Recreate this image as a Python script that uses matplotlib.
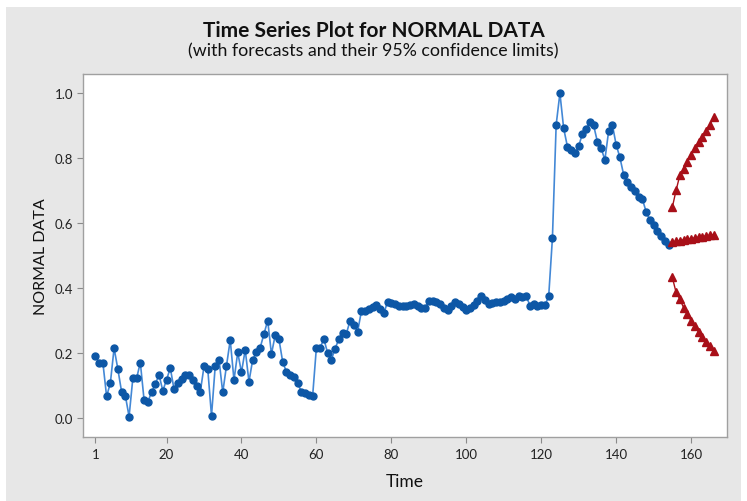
import matplotlib
matplotlib.use("Agg")
import matplotlib.pyplot as plt
from matplotlib.patches import Rectangle

# observed series, t = 1..154
normal_data = [
    0.190, 0.171, 0.171, 0.067, 0.108, 0.215, 0.151, 0.081, 0.069, 0.005,
    0.122, 0.122, 0.171, 0.056, 0.051, 0.079, 0.105, 0.133, 0.084, 0.118,
    0.154, 0.089, 0.108, 0.120, 0.133, 0.133, 0.118, 0.100, 0.080, 0.159,
    0.151, 0.007, 0.161, 0.180, 0.079, 0.161, 0.240, 0.117, 0.202, 0.141,
    0.210, 0.112, 0.180, 0.202, 0.217, 0.258, 0.300, 0.197, 0.255, 0.243,
    0.173, 0.142, 0.132, 0.125, 0.107, 0.081, 0.076, 0.072, 0.069, 0.217,
    0.217, 0.243, 0.200, 0.180, 0.214, 0.243, 0.262, 0.260, 0.300, 0.286,
    0.266, 0.328, 0.330, 0.335, 0.342, 0.348, 0.335, 0.322, 0.358, 0.354,
    0.350, 0.346, 0.344, 0.346, 0.348, 0.352, 0.344, 0.338, 0.338, 0.361,
    0.360, 0.356, 0.351, 0.338, 0.332, 0.344, 0.358, 0.351, 0.341, 0.332,
    0.339, 0.348, 0.361, 0.376, 0.364, 0.351, 0.354, 0.356, 0.358, 0.361,
    0.366, 0.371, 0.367, 0.376, 0.371, 0.376, 0.346, 0.351, 0.345, 0.349,
    0.347, 0.374, 0.553, 0.902, 0.999, 0.891, 0.835, 0.825, 0.815, 0.836,
    0.874, 0.889, 0.910, 0.900, 0.850, 0.830, 0.794, 0.882, 0.902, 0.841,
    0.802, 0.749, 0.725, 0.712, 0.697, 0.679, 0.674, 0.635, 0.609, 0.595,
    0.576, 0.561, 0.546, 0.533,
]
time = list(range(1, len(normal_data) + 1))

# forecasts, t = 155..166
fc_time = list(range(155, 167))
forecast = [0.541, 0.544, 0.546, 0.548, 0.550, 0.552,
            0.554, 0.556, 0.558, 0.560, 0.562, 0.564]
upper_95 = [0.648, 0.700, 0.746, 0.766, 0.787, 0.810,
            0.830, 0.848, 0.864, 0.884, 0.900, 0.926]
lower_95 = [0.433, 0.387, 0.366, 0.340, 0.320, 0.300,
            0.284, 0.264, 0.249, 0.233, 0.221, 0.207]

x_ticks = [1, 20, 40, 60, 80, 100, 120, 140, 160]
y_ticks = [0.0, 0.2, 0.4, 0.6, 0.8, 1.0]

BLUE_LINE = "#4388D6"
BLUE_DOT = "#0D57A6"
RED = "#A80F18"
FONT = ["Lato", "DejaVu Sans"]

W, H = 747, 502
fig = plt.figure(figsize=(W / 100, H / 100), dpi=100, facecolor="white")
# grey panel behind everything (Minitab style)
fig.patches.append(Rectangle((6 / W, 0), (741 - 6) / W, (502 - 8) / H,
                             transform=fig.transFigure, facecolor="#E7E7E7",
                             edgecolor="none", zorder=-10))

ax = fig.add_axes([83 / W, (H - 438) / H, (727 - 83) / W, (438 - 75) / H])
ax.set_facecolor("white")

ax.plot(time, normal_data, color=BLUE_LINE, lw=1.2, marker="o", ms=5.0,
        mfc=BLUE_DOT, mec=BLUE_DOT, zorder=3)
for series in (forecast, upper_95, lower_95):
    ax.plot(fc_time, series, color=RED, lw=1.0, marker="^", ms=5.5,
            mfc=RED, mec=RED, zorder=3)

ax.set_xlim(-2.3, 169.6)
ax.set_ylim(-0.058, 1.058)
ax.set_xticks(x_ticks)
ax.set_yticks(y_ticks)
ax.set_yticklabels([f"{v:.1f}" for v in y_ticks])

for s in ax.spines.values():
    s.set_color("#A0A0A0")
    s.set_linewidth(1.0)
ax.tick_params(direction="out", length=4, width=0.8, color="#8A8A8A",
               labelsize=9.5, labelcolor="#222222")
ax.tick_params(axis="x", pad=4)
ax.tick_params(axis="y", pad=3)
for lab in ax.get_xticklabels() + ax.get_yticklabels():
    lab.set_family(FONT)

ax.set_xlabel("Time", fontsize=12.5, family=FONT, color="#111111", labelpad=9)
ax.set_ylabel("NORMAL DATA", fontsize=11.5, family=FONT, color="#111111",
              labelpad=5)

fig.text(0.5, 1 - 31 / H, "Time Series Plot for NORMAL DATA", ha="center",
         va="center", fontsize=15, fontweight="bold", family=FONT,
         color="#111111")
fig.text(0.5, 1 - 51 / H, "(with forecasts and their 95% confidence limits)",
         ha="center", va="center", fontsize=12.8, family=FONT,
         color="#111111")

fig.savefig("out.png", dpi=100, facecolor="white")
